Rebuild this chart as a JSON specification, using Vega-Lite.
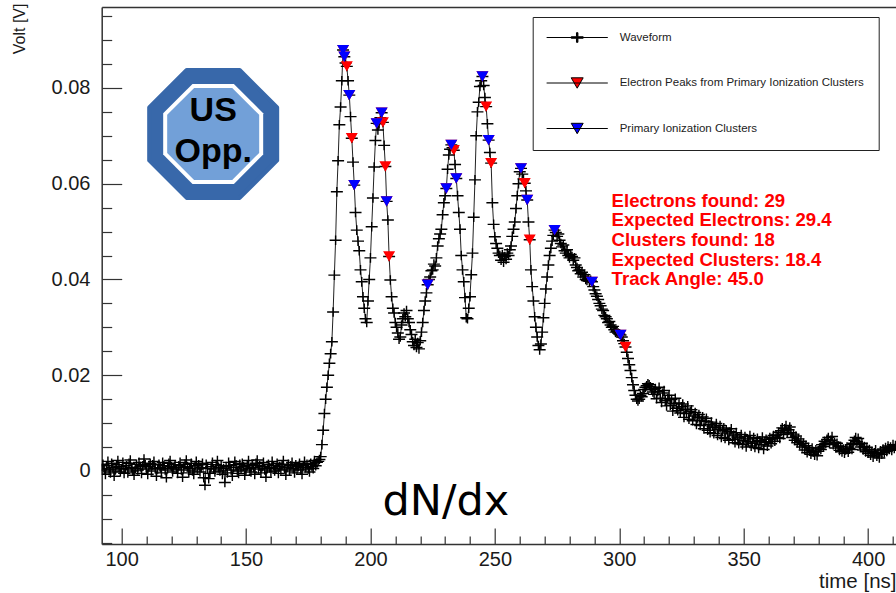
{
  "$schema": "https://vega.github.io/schema/vega-lite/v6.json",
  "width": 794.3,
  "height": 537,
  "autosize": {"type": "none"},
  "padding": {"left": 101.7, "top": 7, "right": 0, "bottom": 49},
  "background": "white",
  "config": {
    "view": {"stroke": null},
    "font": "Liberation Sans",
    "axis": {
      "grid": false,
      "domainColor": "#333333",
      "domainWidth": 1.5,
      "tickColor": "#333333",
      "tickWidth": 1.2,
      "labelFont": "Liberation Sans",
      "labelFontSize": 20,
      "labelColor": "#1a1a1a",
      "titleFont": "Liberation Sans",
      "titleFontWeight": "normal",
      "titleColor": "#1a1a1a"
    }
  },
  "datasets": {
    "wave": [
      {"t":92,"v":0.0005},{"t":92.5,"v":0.0014},{"t":93,"v":0.0002},{"t":93.5,"v":-0.0007},{"t":94,"v":0.0011},{"t":94.5,"v":0.002},{"t":95,"v":0.0004},{"t":95.5,"v":-0.0004},{"t":96,"v":0.0016},{"t":96.5,"v":0.0007},
      {"t":97,"v":-0.0011},{"t":97.5,"v":0.0002},{"t":98,"v":0.0013},{"t":98.5,"v":0.0022},{"t":99,"v":0.0009},{"t":99.5,"v":-0.0002},{"t":100,"v":0.0005},{"t":100.5,"v":0.0018},{"t":101,"v":-0.0005},{"t":101.5,"v":0.0004},
      {"t":102,"v":0.0011},{"t":102.5,"v":-0.0004},{"t":103,"v":0.0016},{"t":103.5,"v":0.0023},{"t":104,"v":0.0007},{"t":104.5,"v":0},{"t":105,"v":-0.0009},{"t":105.5,"v":0.0005},{"t":106,"v":0.0014},{"t":106.5,"v":0.0002},
      {"t":107,"v":0.0018},{"t":107.5,"v":0.0009},{"t":108,"v":-0.0005},{"t":108.5,"v":0.0011},{"t":109,"v":0.0025},{"t":109.5,"v":0.0013},{"t":110,"v":0.0004},{"t":110.5,"v":-0.0007},{"t":111,"v":0.0009},{"t":111.5,"v":0.0016},
      {"t":112,"v":0},{"t":112.5,"v":0.0013},{"t":113,"v":0.002},{"t":113.5,"v":0.0005},{"t":114,"v":-0.0011},{"t":114.5,"v":0.0004},{"t":115,"v":0.0014},{"t":115.5,"v":0.0007},{"t":116,"v":-0.0004},{"t":116.5,"v":0.0018},
      {"t":117,"v":0.0011},{"t":117.5,"v":0.0002},{"t":118,"v":-0.0014},{"t":118.5,"v":0.0005},{"t":119,"v":0.0016},{"t":119.5,"v":0.0022},{"t":120,"v":0.0009},{"t":120.5,"v":-0.0002},{"t":121,"v":0.0007},{"t":121.5,"v":0.0013},
      {"t":122,"v":0.0004},{"t":122.5,"v":-0.0005},{"t":123,"v":0.0011},{"t":123.5,"v":0.0018},{"t":124,"v":0.0002},{"t":124.5,"v":-0.0013},{"t":125,"v":0.0007},{"t":125.5,"v":0.0014},{"t":126,"v":0.0023},{"t":126.5,"v":0.0009},
      {"t":127,"v":-0.0004},{"t":127.5,"v":0.0005},{"t":128,"v":0.0016},{"t":128.5,"v":0},{"t":129,"v":-0.0007},{"t":129.5,"v":0.0011},{"t":130,"v":0.002},{"t":130.5,"v":0.0004},{"t":131,"v":0.0013},{"t":131.5,"v":-0.0002},
      {"t":132,"v":0.0007},{"t":132.5,"v":0.0016},{"t":133,"v":-0.0014},{"t":133.5,"v":-0.003},{"t":134,"v":0.0014},{"t":134.5,"v":0.0005},{"t":135,"v":-0.0016},{"t":135.5,"v":-0.0005},{"t":136,"v":0.0009},{"t":136.5,"v":0.0018},
      {"t":137,"v":0.0004},{"t":137.5,"v":-0.0002},{"t":138,"v":0.0013},{"t":138.5,"v":0.0022},{"t":139,"v":0.0007},{"t":139.5,"v":0},{"t":140,"v":0.0011},{"t":140.5,"v":-0.0007},{"t":141,"v":0.0005},{"t":141.5,"v":-0.0024},
      {"t":142,"v":0.0009},{"t":142.5,"v":-0.0004},{"t":143,"v":0.0018},{"t":143.5,"v":0.0011},{"t":144,"v":0.0002},{"t":144.5,"v":-0.0011},{"t":145,"v":0.0007},{"t":145.5,"v":0.002},{"t":146,"v":0.0013},{"t":146.5,"v":0},
      {"t":147,"v":-0.0005},{"t":147.5,"v":0.0014},{"t":148,"v":0.0004},{"t":148.5,"v":0.0016},{"t":149,"v":0.0009},{"t":149.5,"v":-0.0009},{"t":150,"v":0.0002},{"t":150.5,"v":0.0011},{"t":151,"v":0.0022},{"t":151.5,"v":0.0005},
      {"t":152,"v":-0.0002},{"t":152.5,"v":0.0013},{"t":153,"v":0.0007},{"t":153.5,"v":-0.0007},{"t":154,"v":0.0016},{"t":154.5,"v":0.0023},{"t":155,"v":0.0004},{"t":155.5,"v":0.0011},{"t":156,"v":-0.0004},{"t":156.5,"v":0.0009},
      {"t":157,"v":0.0018},{"t":157.5,"v":0.0002},{"t":158,"v":-0.0013},{"t":158.5,"v":0.0005},{"t":159,"v":0.0014},{"t":159.5,"v":0.0007},{"t":160,"v":-0.0002},{"t":160.5,"v":0.002},{"t":161,"v":0.0011},{"t":161.5,"v":0},
      {"t":162,"v":0.0005},{"t":162.5,"v":0.0016},{"t":163,"v":-0.0005},{"t":163.5,"v":0.0009},{"t":164,"v":0.0002},{"t":164.5,"v":0.0013},{"t":165,"v":0.0022},{"t":165.5,"v":0.0004},{"t":166,"v":-0.0009},{"t":166.5,"v":0.0007},
      {"t":167,"v":0.0014},{"t":167.5,"v":0},{"t":168,"v":0.0011},{"t":168.5,"v":0.0018},{"t":169,"v":0.0005},{"t":169.5,"v":-0.0004},{"t":170,"v":0.0013},{"t":170.5,"v":0.0004},{"t":171,"v":0.0009},{"t":171.5,"v":0.0016},
      {"t":172,"v":0.0002},{"t":172.5,"v":-0.0007},{"t":173,"v":0.0011},{"t":173.5,"v":0.002},{"t":174,"v":0.0007},{"t":174.5,"v":0.0014},{"t":175,"v":0.0004},{"t":175.5,"v":-0.0002},{"t":176,"v":0.0016},{"t":176.5,"v":0.0009},
      {"t":177,"v":0.0005},{"t":177.5,"v":0.0022},{"t":178,"v":0.0011},{"t":178.5,"v":0.0018},{"t":179,"v":0.002},{"t":179.5,"v":0.0024},
      {"t":180,"v":0.003},{"t":180.5,"v":0.0055},{"t":181,"v":0.0085},{"t":181.5,"v":0.012},{"t":182,"v":0.015},{"t":182.5,"v":0.0175},{"t":183,"v":0.02},{"t":183.5,"v":0.0225},{"t":184,"v":0.0245},{"t":184.5,"v":0.027},
      {"t":185,"v":0.0332},{"t":185.5,"v":0.0409},{"t":186,"v":0.0482},{"t":186.5,"v":0.0583},{"t":187,"v":0.0648},{"t":187.5,"v":0.0723},{"t":188,"v":0.076},{"t":188.5,"v":0.0815},{"t":189,"v":0.0879},{"t":189.5,"v":0.0865},
      {"t":190,"v":0.0852},{"t":190.5,"v":0.0845},{"t":191,"v":0.0815},{"t":191.5,"v":0.0785},{"t":192,"v":0.074},{"t":192.5,"v":0.0695},{"t":193,"v":0.0645},{"t":193.5,"v":0.0597},{"t":194,"v":0.054},{"t":194.5,"v":0.0503},
      {"t":195,"v":0.048},{"t":195.5,"v":0.046},{"t":196,"v":0.042},{"t":196.5,"v":0.0395},{"t":197,"v":0.0364},{"t":197.5,"v":0.034},{"t":198,"v":0.0318},{"t":198.5,"v":0.031},{"t":199,"v":0.0355},{"t":199.5,"v":0.04},
      {"t":200,"v":0.0445},{"t":200.5,"v":0.051},{"t":201,"v":0.057},{"t":201.5,"v":0.0635},{"t":202,"v":0.069},{"t":202.5,"v":0.0726},{"t":203,"v":0.0712},{"t":203.5,"v":0.0725},{"t":204,"v":0.0738},{"t":204.5,"v":0.0748},
      {"t":205,"v":0.0728},{"t":205.5,"v":0.068},{"t":206,"v":0.0636},{"t":206.5,"v":0.0563},{"t":207,"v":0.0524},{"t":207.5,"v":0.0448},{"t":208,"v":0.0399},{"t":208.5,"v":0.0364},{"t":209,"v":0.034},{"t":209.5,"v":0.033},
      {"t":210,"v":0.031},{"t":210.5,"v":0.03},{"t":211,"v":0.0288},{"t":211.5,"v":0.0275},{"t":212,"v":0.028},{"t":212.5,"v":0.0305},{"t":213,"v":0.0318},{"t":213.5,"v":0.033},{"t":214,"v":0.0322},{"t":214.5,"v":0.0335},
      {"t":215,"v":0.0318},{"t":215.5,"v":0.031},{"t":216,"v":0.0295},{"t":216.5,"v":0.0285},{"t":217,"v":0.027},{"t":217.5,"v":0.0262},{"t":218,"v":0.0275},{"t":218.5,"v":0.0258},{"t":219,"v":0.0268},{"t":219.5,"v":0.0255},
      {"t":220,"v":0.0272},{"t":220.5,"v":0.029},{"t":221,"v":0.031},{"t":221.5,"v":0.0335},{"t":222,"v":0.0355},{"t":222.5,"v":0.0372},{"t":223,"v":0.0389},{"t":223.5,"v":0.04},{"t":224,"v":0.0405},{"t":224.5,"v":0.0418},
      {"t":225,"v":0.042},{"t":225.5,"v":0.0432},{"t":226,"v":0.0428},{"t":226.5,"v":0.0445},{"t":227,"v":0.047},{"t":227.5,"v":0.0485},{"t":228,"v":0.0495},{"t":228.5,"v":0.0505},{"t":229,"v":0.0535},{"t":229.5,"v":0.056},
      {"t":230,"v":0.0575},{"t":230.5,"v":0.059},{"t":231,"v":0.063},{"t":231.5,"v":0.066},{"t":232,"v":0.0672},{"t":232.5,"v":0.0681},{"t":233,"v":0.0675},{"t":233.5,"v":0.067},{"t":234,"v":0.064},{"t":234.5,"v":0.0611},
      {"t":235,"v":0.0575},{"t":235.5,"v":0.054},{"t":236,"v":0.0505},{"t":236.5,"v":0.045},{"t":237,"v":0.042},{"t":237.5,"v":0.0395},{"t":238,"v":0.0362},{"t":238.5,"v":0.032},{"t":239,"v":0.0318},{"t":239.5,"v":0.034},
      {"t":240,"v":0.0364},{"t":240.5,"v":0.041},{"t":241,"v":0.0455},{"t":241.5,"v":0.053},{"t":242,"v":0.0608},{"t":242.5,"v":0.07},{"t":243,"v":0.075},{"t":243.5,"v":0.077},{"t":244,"v":0.0803},{"t":244.5,"v":0.0815},
      {"t":245,"v":0.0824},{"t":245.5,"v":0.0805},{"t":246,"v":0.078},{"t":246.5,"v":0.0761},{"t":247,"v":0.0725},{"t":247.5,"v":0.0691},{"t":248,"v":0.0665},{"t":248.5,"v":0.0643},{"t":249,"v":0.056},{"t":249.5,"v":0.0515},
      {"t":250,"v":0.0489},{"t":250.5,"v":0.0475},{"t":251,"v":0.0465},{"t":251.5,"v":0.0455},{"t":252,"v":0.045},{"t":252.5,"v":0.044},{"t":253,"v":0.0452},{"t":253.5,"v":0.0436},{"t":254,"v":0.0448},{"t":254.5,"v":0.0442},
      {"t":255,"v":0.0455},{"t":255.5,"v":0.045},{"t":256,"v":0.0462},{"t":256.5,"v":0.047},{"t":257,"v":0.049},{"t":257.5,"v":0.0505},{"t":258,"v":0.052},{"t":258.5,"v":0.0548},{"t":259,"v":0.0575},{"t":259.5,"v":0.06},
      {"t":260,"v":0.0625},{"t":260.5,"v":0.0632},{"t":261,"v":0.062},{"t":261.5,"v":0.061},{"t":262,"v":0.0601},{"t":262.5,"v":0.0585},{"t":263,"v":0.0566},{"t":263.5,"v":0.052},{"t":264,"v":0.0483},{"t":264.5,"v":0.042},
      {"t":265,"v":0.0385},{"t":265.5,"v":0.0355},{"t":266,"v":0.0322},{"t":266.5,"v":0.03},{"t":267,"v":0.028},{"t":267.5,"v":0.0262},{"t":268,"v":0.0253},{"t":268.5,"v":0.0265},{"t":269,"v":0.029},{"t":269.5,"v":0.032},
      {"t":270,"v":0.035},{"t":270.5,"v":0.038},{"t":271,"v":0.0405},{"t":271.5,"v":0.043},{"t":272,"v":0.045},{"t":272.5,"v":0.0465},{"t":273,"v":0.048},{"t":273.5,"v":0.0492},{"t":274,"v":0.0503},{"t":274.5,"v":0.0498},
      {"t":275,"v":0.049},{"t":275.5,"v":0.0495},{"t":276,"v":0.0482},{"t":276.5,"v":0.0475},{"t":277,"v":0.0468},{"t":277.5,"v":0.0472},{"t":278,"v":0.046},{"t":278.5,"v":0.0455},{"t":279,"v":0.0462},{"t":279.5,"v":0.045},
      {"t":280,"v":0.0445},{"t":280.5,"v":0.0452},{"t":281,"v":0.0448},{"t":281.5,"v":0.044},{"t":282,"v":0.0445},{"t":282.5,"v":0.043},{"t":283,"v":0.0425},{"t":283.5,"v":0.0418},{"t":284,"v":0.042},{"t":284.5,"v":0.0412},
      {"t":285,"v":0.0415},{"t":285.5,"v":0.0405},{"t":286,"v":0.041},{"t":286.5,"v":0.04},{"t":287,"v":0.0398},{"t":287.5,"v":0.0402},{"t":288,"v":0.0396},{"t":288.5,"v":0.0398},{"t":289,"v":0.0395},{"t":289.5,"v":0.0385},
      {"t":290,"v":0.0378},{"t":290.5,"v":0.037},{"t":291,"v":0.0365},{"t":291.5,"v":0.0358},{"t":292,"v":0.035},{"t":292.5,"v":0.0345},{"t":293,"v":0.0338},{"t":293.5,"v":0.0335},{"t":294,"v":0.0325},{"t":294.5,"v":0.0322},
      {"t":295,"v":0.0318},{"t":295.5,"v":0.031},{"t":296,"v":0.0312},{"t":296.5,"v":0.0305},{"t":297,"v":0.03},{"t":297.5,"v":0.0302},{"t":298,"v":0.0295},{"t":298.5,"v":0.029},{"t":299,"v":0.0292},{"t":299.5,"v":0.0288},
      {"t":300,"v":0.0286},{"t":300.5,"v":0.0284},{"t":301,"v":0.028},{"t":301.5,"v":0.0272},{"t":302,"v":0.0266},{"t":302.5,"v":0.0259},{"t":303,"v":0.0248},{"t":303.5,"v":0.0235},{"t":304,"v":0.0222},{"t":304.5,"v":0.021},
      {"t":305,"v":0.0195},{"t":305.5,"v":0.018},{"t":306,"v":0.0168},{"t":306.5,"v":0.0158},{"t":307,"v":0.015},{"t":307.5,"v":0.0146},{"t":308,"v":0.015},{"t":308.5,"v":0.0158},{"t":309,"v":0.0155},{"t":309.5,"v":0.0162},
      {"t":310,"v":0.017},{"t":310.5,"v":0.0175},{"t":311,"v":0.0178},{"t":311.5,"v":0.0182},{"t":312,"v":0.018},{"t":312.5,"v":0.0176},{"t":313,"v":0.017},{"t":313.5,"v":0.0165},
      {"t":314,"v":0.016},{"t":314.5,"v":0.0172},{"t":315,"v":0.0151},{"t":315.5,"v":0.0166},{"t":316,"v":0.0175},{"t":316.5,"v":0.0152},{"t":317,"v":0.0143},{"t":317.5,"v":0.0163},{"t":318,"v":0.0168},{"t":318.5,"v":0.0147},
      {"t":319,"v":0.0136},{"t":319.5,"v":0.0151},{"t":320,"v":0.0158},{"t":320.5,"v":0.0137},{"t":321,"v":0.0149},{"t":321.5,"v":0.0125},{"t":322,"v":0.0141},{"t":322.5,"v":0.0152},{"t":323,"v":0.0131},{"t":323.5,"v":0.0126},
      {"t":324,"v":0.0142},{"t":324.5,"v":0.0121},{"t":325,"v":0.0134},{"t":325.5,"v":0.014},{"t":326,"v":0.0112},{"t":326.5,"v":0.0129},{"t":327,"v":0.012},{"t":327.5,"v":0.0136},{"t":328,"v":0.0108},{"t":328.5,"v":0.0124},
      {"t":329,"v":0.0128},{"t":329.5,"v":0.0105},{"t":330,"v":0.0115},{"t":330.5,"v":0.0122},{"t":331,"v":0.0097},{"t":331.5,"v":0.0111},{"t":332,"v":0.0118},{"t":332.5,"v":0.0095},{"t":333,"v":0.0106},{"t":333.5,"v":0.0113},
      {"t":334,"v":0.0088},{"t":334.5,"v":0.0104},{"t":335,"v":0.011},{"t":335.5,"v":0.0085},{"t":336,"v":0.0097},{"t":336.5,"v":0.008},{"t":337,"v":0.0102},{"t":337.5,"v":0.0094},{"t":338,"v":0.0078},{"t":338.5,"v":0.0091},
      {"t":339,"v":0.0099},{"t":339.5,"v":0.0074},{"t":340,"v":0.0087},{"t":340.5,"v":0.0095},{"t":341,"v":0.007},{"t":341.5,"v":0.0084},{"t":342,"v":0.009},{"t":342.5,"v":0.0068},{"t":343,"v":0.0086},{"t":343.5,"v":0.0079},
      {"t":344,"v":0.0064},{"t":344.5,"v":0.0082},{"t":345,"v":0.0088},{"t":345.5,"v":0.0066},{"t":346,"v":0.0075},{"t":346.5,"v":0.0059},{"t":347,"v":0.008},{"t":347.5,"v":0.0071},{"t":348,"v":0.0057},{"t":348.5,"v":0.0069},
      {"t":349,"v":0.0076},{"t":349.5,"v":0.0055},{"t":350,"v":0.0063},{"t":350.5,"v":0.0072},{"t":351,"v":0.005},{"t":351.5,"v":0.0067},{"t":352,"v":0.0061},{"t":352.5,"v":0.0074},{"t":353,"v":0.0052},{"t":353.5,"v":0.0058},
      {"t":354,"v":0.007},{"t":354.5,"v":0.0049},{"t":355,"v":0.0061},{"t":355.5,"v":0.0068},{"t":356,"v":0.0047},{"t":356.5,"v":0.0063},{"t":357,"v":0.0055},{"t":357.5,"v":0.0071},{"t":358,"v":0.0045},{"t":358.5,"v":0.006},
      {"t":359,"v":0.0066},{"t":359.5,"v":0.0052},{"t":360,"v":0.0061},{"t":360.5,"v":0.007},{"t":361,"v":0.0057},{"t":361.5,"v":0.0068},{"t":362,"v":0.0074},{"t":362.5,"v":0.0062},{"t":363,"v":0.0075},{"t":363.5,"v":0.007},
      {"t":364,"v":0.0081},{"t":364.5,"v":0.0068},{"t":365,"v":0.0084},{"t":365.5,"v":0.009},{"t":366,"v":0.0076},{"t":366.5,"v":0.0088},{"t":367,"v":0.0095},{"t":367.5,"v":0.0079},{"t":368,"v":0.0086},{"t":368.5,"v":0.0092},
      {"t":369,"v":0.008},{"t":369.5,"v":0.007},{"t":370,"v":0.0077},{"t":370.5,"v":0.0064},{"t":371,"v":0.0073},{"t":371.5,"v":0.0059},{"t":372,"v":0.0067},{"t":372.5,"v":0.0055},{"t":373,"v":0.0062},{"t":373.5,"v":0.005},
      {"t":374,"v":0.0058},{"t":374.5,"v":0.0044},{"t":375,"v":0.0053},{"t":375.5,"v":0.0038},{"t":376,"v":0.0049},{"t":376.5,"v":0.0042},{"t":377,"v":0.0035},{"t":377.5,"v":0.0048},{"t":378,"v":0.004},{"t":378.5,"v":0.0033},
      {"t":379,"v":0.0044},{"t":379.5,"v":0.0032},{"t":380,"v":0.0041},{"t":380.5,"v":0.0048},{"t":381,"v":0.0045},{"t":381.5,"v":0.0055},{"t":382,"v":0.0051},{"t":382.5,"v":0.0062},{"t":383,"v":0.0058},{"t":383.5,"v":0.0066},
      {"t":384,"v":0.007},{"t":384.5,"v":0.0057},{"t":385,"v":0.0064},{"t":385.5,"v":0.0072},{"t":386,"v":0.0055},{"t":386.5,"v":0.006},{"t":387,"v":0.0048},{"t":387.5,"v":0.0058},{"t":388,"v":0.0052},{"t":388.5,"v":0.0043},
      {"t":389,"v":0.0051},{"t":389.5,"v":0.004},{"t":390,"v":0.0046},{"t":390.5,"v":0.0037},{"t":391,"v":0.0044},{"t":391.5,"v":0.005},{"t":392,"v":0.0039},{"t":392.5,"v":0.0047},{"t":393,"v":0.0055},{"t":393.5,"v":0.0045},
      {"t":394,"v":0.0058},{"t":394.5,"v":0.0064},{"t":395,"v":0.007},{"t":395.5,"v":0.0061},{"t":396,"v":0.0068},{"t":396.5,"v":0.0055},{"t":397,"v":0.005},{"t":397.5,"v":0.0058},{"t":398,"v":0.0044},{"t":398.5,"v":0.0051},
      {"t":399,"v":0.004},{"t":399.5,"v":0.0049},{"t":400,"v":0.0037},{"t":400.5,"v":0.0045},{"t":401,"v":0.0033},{"t":401.5,"v":0.0041},{"t":402,"v":0.0029},{"t":402.5,"v":0.0038},{"t":403,"v":0.0044},{"t":403.5,"v":0.0031},
      {"t":404,"v":0.0036},{"t":404.5,"v":0.0027},{"t":405,"v":0.0042},{"t":405.5,"v":0.0035},{"t":406,"v":0.0046},{"t":406.5,"v":0.0038},{"t":407,"v":0.0049},{"t":407.5,"v":0.0041},{"t":408,"v":0.0052},{"t":408.5,"v":0.0045},
      {"t":409,"v":0.005},{"t":409.5,"v":0.0043},{"t":410,"v":0.0055},{"t":410.5,"v":0.0047},{"t":411,"v":0.0053}
    ],
    "peaks": [
      {"t":190.5,"v":0.0845,"kind":"Electron Peaks from Primary Ionization Clusters"},
      {"t":192.5,"v":0.0695,"kind":"Electron Peaks from Primary Ionization Clusters"},
      {"t":205,"v":0.0728,"kind":"Electron Peaks from Primary Ionization Clusters"},
      {"t":206,"v":0.0636,"kind":"Electron Peaks from Primary Ionization Clusters"},
      {"t":207.5,"v":0.0448,"kind":"Electron Peaks from Primary Ionization Clusters"},
      {"t":233.5,"v":0.067,"kind":"Electron Peaks from Primary Ionization Clusters"},
      {"t":246.5,"v":0.0761,"kind":"Electron Peaks from Primary Ionization Clusters"},
      {"t":248.5,"v":0.0643,"kind":"Electron Peaks from Primary Ionization Clusters"},
      {"t":262,"v":0.0601,"kind":"Electron Peaks from Primary Ionization Clusters"},
      {"t":264,"v":0.0483,"kind":"Electron Peaks from Primary Ionization Clusters"},
      {"t":302.5,"v":0.0259,"kind":"Electron Peaks from Primary Ionization Clusters"},
      {"t":189,"v":0.0879,"kind":"Electron Peaks from Primary Ionization Clusters"},
      {"t":189.5,"v":0.0865,"kind":"Electron Peaks from Primary Ionization Clusters"},
      {"t":191.5,"v":0.0785,"kind":"Electron Peaks from Primary Ionization Clusters"},
      {"t":193.5,"v":0.0597,"kind":"Electron Peaks from Primary Ionization Clusters"},
      {"t":202.5,"v":0.0726,"kind":"Electron Peaks from Primary Ionization Clusters"},
      {"t":204.5,"v":0.0748,"kind":"Electron Peaks from Primary Ionization Clusters"},
      {"t":206.5,"v":0.0563,"kind":"Electron Peaks from Primary Ionization Clusters"},
      {"t":223,"v":0.0389,"kind":"Electron Peaks from Primary Ionization Clusters"},
      {"t":230.5,"v":0.059,"kind":"Electron Peaks from Primary Ionization Clusters"},
      {"t":232.5,"v":0.0681,"kind":"Electron Peaks from Primary Ionization Clusters"},
      {"t":234.5,"v":0.0611,"kind":"Electron Peaks from Primary Ionization Clusters"},
      {"t":245,"v":0.0824,"kind":"Electron Peaks from Primary Ionization Clusters"},
      {"t":247.5,"v":0.0691,"kind":"Electron Peaks from Primary Ionization Clusters"},
      {"t":260.5,"v":0.0632,"kind":"Electron Peaks from Primary Ionization Clusters"},
      {"t":263,"v":0.0566,"kind":"Electron Peaks from Primary Ionization Clusters"},
      {"t":274,"v":0.0503,"kind":"Electron Peaks from Primary Ionization Clusters"},
      {"t":289,"v":0.0395,"kind":"Electron Peaks from Primary Ionization Clusters"},
      {"t":300.5,"v":0.0284,"kind":"Electron Peaks from Primary Ionization Clusters"},
      {"t":189,"v":0.0879,"kind":"Primary Ionization Clusters"},
      {"t":189.5,"v":0.0865,"kind":"Primary Ionization Clusters"},
      {"t":191.5,"v":0.0785,"kind":"Primary Ionization Clusters"},
      {"t":193.5,"v":0.0597,"kind":"Primary Ionization Clusters"},
      {"t":202.5,"v":0.0726,"kind":"Primary Ionization Clusters"},
      {"t":204.5,"v":0.0748,"kind":"Primary Ionization Clusters"},
      {"t":206.5,"v":0.0563,"kind":"Primary Ionization Clusters"},
      {"t":223,"v":0.0389,"kind":"Primary Ionization Clusters"},
      {"t":230.5,"v":0.059,"kind":"Primary Ionization Clusters"},
      {"t":232.5,"v":0.0681,"kind":"Primary Ionization Clusters"},
      {"t":234.5,"v":0.0611,"kind":"Primary Ionization Clusters"},
      {"t":245,"v":0.0824,"kind":"Primary Ionization Clusters"},
      {"t":247.5,"v":0.0691,"kind":"Primary Ionization Clusters"},
      {"t":260.5,"v":0.0632,"kind":"Primary Ionization Clusters"},
      {"t":263,"v":0.0566,"kind":"Primary Ionization Clusters"},
      {"t":274,"v":0.0503,"kind":"Primary Ionization Clusters"},
      {"t":289,"v":0.0395,"kind":"Primary Ionization Clusters"},
      {"t":300.5,"v":0.0284,"kind":"Primary Ionization Clusters"}
    ]
  },
  "layer": [
    {
      "data": {"values": [{}]},
      "mark": {"type": "point", "filled": true, "opacity": 1, "shape": "M-0.414,-1L0.414,-1L1,-0.414L1,0.414L0.414,1L-0.414,1L-1,0.414L-1,-0.414Z", "size": 16384, "color": "#3868aa", "stroke": "#3868aa", "strokeWidth": 4, "strokeJoin": "round"},
      "encoding": {
        "x": {"datum": 136.8, "type": "quantitative", "axis": null},
        "y": {"datum": 0.0704, "type": "quantitative", "axis": null}
      }
    },
    {
      "data": {"values": [{}]},
      "mark": {"type": "point", "filled": true, "opacity": 1, "shape": "M-0.414,-1L0.414,-1L1,-0.414L1,0.414L0.414,1L-0.414,1L-1,0.414L-1,-0.414Z", "size": 10000, "color": "#ffffff"},
      "encoding": {
        "x": {"datum": 136.8, "type": "quantitative", "axis": null},
        "y": {"datum": 0.0704, "type": "quantitative", "axis": null}
      }
    },
    {
      "data": {"values": [{}]},
      "mark": {"type": "point", "filled": true, "opacity": 1, "shape": "M-0.414,-1L0.414,-1L1,-0.414L1,0.414L0.414,1L-0.414,1L-1,0.414L-1,-0.414Z", "size": 8464, "color": "#72a0d8"},
      "encoding": {
        "x": {"datum": 136.8, "type": "quantitative", "axis": null},
        "y": {"datum": 0.0704, "type": "quantitative", "axis": null}
      }
    },
    {
      "data": {"values": [{}]},
      "mark": {"type": "text", "text": ["US", "Opp."], "font": "Liberation Sans", "fontWeight": "bold", "fontSize": 34, "lineHeight": 41, "align": "center", "baseline": "middle", "color": "#000000"},
      "encoding": {
        "x": {"datum": 136.8, "type": "quantitative", "axis": null},
        "y": {"datum": 0.0752, "type": "quantitative", "axis": null}
      }
    },
    {
      "data": {"name": "wave"},
      "mark": {"type": "line", "color": "#222222", "strokeWidth": 1, "clip": true},
      "encoding": {
        "x": {
          "field": "t", "type": "quantitative",
          "scale": {"domain": [92, 411.2], "nice": false, "zero": false},
          "axis": {
            "orient": "bottom", "values": [100, 150, 200, 250, 300, 350, 400],
            "tickSize": -16, "labelPadding": 21.5, "labelFlush": false,
            "title": "time [ns]", "titleAnchor": "end", "titleAlign": "right",
            "titleFontSize": 20.5, "titlePadding": 2
          }
        },
        "y": {
          "field": "v", "type": "quantitative",
          "scale": {"domain": [-0.01525, 0.0969], "nice": false, "zero": false},
          "axis": {
            "orient": "left", "values": [0, 0.02, 0.04, 0.06, 0.08], "format": ".2~f",
            "tickSize": -20, "labelPadding": 31.7, "labelFlush": false,
            "title": "Volt [V]", "titleAlign": "right", "titleAngle": 270, "titleBaseline": "middle",
            "titleX": -82.7, "titleY": -4, "titleFontSize": 16, "titleLimit": 300
          }
        }
      }
    },
    {
      "data": {"name": "wave"},
      "mark": {"type": "point", "filled": true, "opacity": 1, "size": 144, "clip": true},
      "encoding": {
        "x": {
          "field": "t", "type": "quantitative",
          "axis": {
            "orient": "bottom",
            "values": [110, 120, 130, 140, 160, 170, 180, 190, 210, 220, 230, 240, 260, 270, 280, 290, 310, 320, 330, 340, 360, 370, 380, 390, 410],
            "tickSize": -8, "labels": false, "domain": false, "title": null
          }
        },
        "y": {
          "field": "v", "type": "quantitative",
          "axis": {
            "orient": "left",
            "values": [-0.015, -0.01, -0.005, 0.005, 0.01, 0.015, 0.025, 0.03, 0.035, 0.045, 0.05, 0.055, 0.065, 0.07, 0.075, 0.085, 0.09, 0.095],
            "tickSize": -10, "labels": false, "domain": false, "title": null
          }
        },
        "color": {"datum": "Waveform", "type": "nominal"},
        "shape": {"datum": "Waveform", "type": "nominal"}
      }
    },
    {
      "data": {"name": "peaks"},
      "mark": {"type": "point", "filled": true, "opacity": 1, "size": 144, "clip": true},
      "encoding": {
        "x": {
          "field": "t", "type": "quantitative",
          "axis": {"orient": "top", "domain": true, "ticks": false, "labels": false, "title": null}
        },
        "y": {"field": "v", "type": "quantitative", "axis": null},
        "color": {
          "field": "kind", "type": "nominal",
          "scale": {
            "domain": ["Waveform", "Electron Peaks from Primary Ionization Clusters", "Primary Ionization Clusters"],
            "range": ["#000000", "#ff0000", "#0000ff"]
          },
          "legend": {
            "title": null,
            "orient": "none",
            "legendX": 431,
            "legendY": 10,
            "padding": 14,
            "strokeColor": "#222222",
            "fillColor": "#ffffff",
            "symbolSize": 144,
            "symbolOffset": 24,
            "symbolStrokeColor": "#000000",
            "symbolStrokeWidth": 1,
            "labelOffset": 36,
            "rowPadding": 30.5,
            "labelFont": "Liberation Sans",
            "labelFontSize": 11.5,
            "labelColor": "#222222",
            "labelLimit": 400
          }
        },
        "shape": {
          "field": "kind", "type": "nominal",
          "scale": {
            "domain": ["Waveform", "Electron Peaks from Primary Ionization Clusters", "Primary Ionization Clusters"],
            "range": [
              "M-5.1,0H5.1M-1,-0.12H-0.12V-0.8H0.12V-0.12H1V0.12H0.12V0.8H-0.12V0.12H-1Z",
              "M-5.1,0H5.1M-1,-0.866L1,-0.866L0,0.866Z",
              "M-5.1,0H5.1M-1,-0.866L1,-0.866L0,0.866Z"
            ]
          }
        }
      }
    },
    {
      "data": {"values": [{}]},
      "mark": {"type": "text", "text": ["Electrons found: 29", "Expected Electrons: 29.4", "Clusters found: 18", "Expected Clusters: 18.4", "Track Angle: 45.0"], "font": "Liberation Sans", "fontWeight": "bold", "fontSize": 18.6, "lineHeight": 19.6, "align": "left", "baseline": "top", "color": "#ff0000"},
      "encoding": {
        "x": {"datum": 296.9, "type": "quantitative", "axis": null},
        "y": {"datum": 0.0583, "type": "quantitative", "axis": null}
      }
    },
    {
      "data": {"values": [{}]},
      "mark": {"type": "text", "text": "dN/dx", "font": "DejaVu Sans", "fontSize": 43, "align": "center", "baseline": "alphabetic", "color": "#000000"},
      "encoding": {
        "x": {"datum": 230.3, "type": "quantitative", "axis": null},
        "y": {"datum": -0.0092, "type": "quantitative", "axis": null}
      }
    }
  ],
  "resolve": {"axis": {"x": "independent", "y": "independent"}}
}
